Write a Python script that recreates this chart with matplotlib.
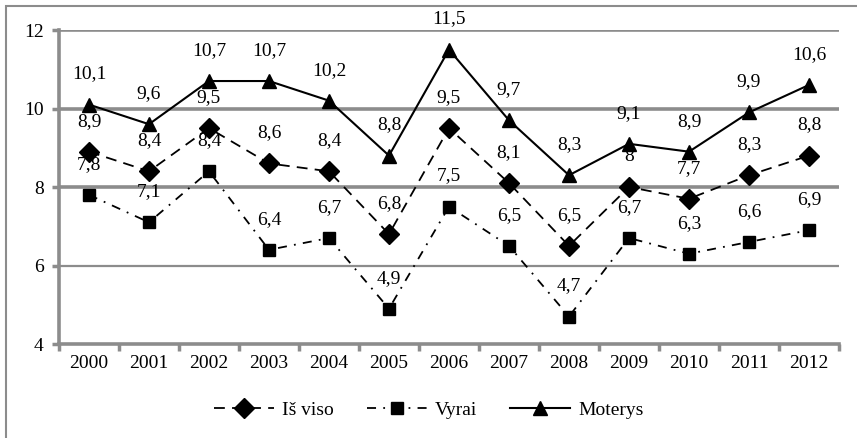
import matplotlib.pyplot as plt
import matplotlib.patches as mpatches
import numpy as np

plt.rcParams['font.family'] = ['Liberation Serif', 'DejaVu Serif']

years = ['2000', '2001', '2002', '2003', '2004', '2005', '2006',
         '2007', '2008', '2009', '2010', '2011', '2012']
is_viso = [8.9, 8.4, 9.5, 8.6, 8.4, 6.8, 9.5, 8.1, 6.5, 8.0, 7.7, 8.3, 8.8]
vyrai = [7.8, 7.1, 8.4, 6.4, 6.7, 4.9, 7.5, 6.5, 4.7, 6.7, 6.3, 6.6, 6.9]
moterys = [10.1, 9.6, 10.7, 10.7, 10.2, 8.8, 11.5, 9.7, 8.3, 9.1, 8.9, 9.9, 10.6]

def fmt(v):
    s = ('%.1f' % v).replace('.', ',')
    return s[:-2] if s.endswith(',0') else s

fig = plt.figure(figsize=(8.57, 4.38), dpi=100)
ax = fig.add_axes([0.0688, 0.2146, 0.9102, 0.7169])

grey = '#8c8c8c'
x = np.arange(len(years))

for y, w in [(12, 2.6), (10, 2.6), (8, 2.6), (6, 1.6)]:
    ax.axhline(y, color=grey, lw=w, zorder=1)

ax.plot(x, is_viso, color='black', lw=1.3, ls=(0, (6, 4)), marker='D',
        ms=10, label='Iš viso', zorder=3)
ax.plot(x, vyrai, color='black', lw=1.3, ls=(0, (5, 4, 1, 4)), marker='s',
        ms=9, label='Vyrai', zorder=3)
ax.plot(x, moterys, color='black', lw=1.5, ls='-', marker='^',
        ms=10, label='Moterys', zorder=3)

for series in (is_viso, vyrai, moterys):
    for xi, v in zip(x, series):
        ax.annotate(fmt(v), (xi, v), xytext=(0, 22), textcoords='offset points',
                    ha='center', va='center', fontsize=14, zorder=4)

ax.set_xlim(-0.5, len(years) - 0.5)
ax.set_ylim(4, 12)
ax.set_yticks([4, 6, 8, 10, 12])
ax.set_xticks(x)
ax.set_xticklabels(years)
ax.set_xticks(np.arange(-0.5, len(years), 1), minor=True)
ax.tick_params(axis='x', which='major', length=0, labelsize=14, pad=8)
ax.tick_params(axis='x', which='minor', length=5, width=2.5, color=grey)
ax.tick_params(axis='y', length=5, width=2.5, color=grey, labelsize=14, pad=6)

for s in ['top', 'right']:
    ax.spines[s].set_visible(False)
for s in ['left', 'bottom']:
    ax.spines[s].set_color(grey)
    ax.spines[s].set_linewidth(2.6)

fig.legend(loc='center', bbox_to_anchor=(0.5, 0.064), ncol=3, frameon=False,
           fontsize=14, handlelength=3.1, handletextpad=0.4, columnspacing=1.7)

fig.patches.append(mpatches.Rectangle((6 / 857, -0.1), 1.1, 1 - 6 / 438 + 0.1,
                                      transform=fig.transFigure, fill=False,
                                      edgecolor=grey, lw=1.5))

fig.savefig('out.png', dpi=100)
